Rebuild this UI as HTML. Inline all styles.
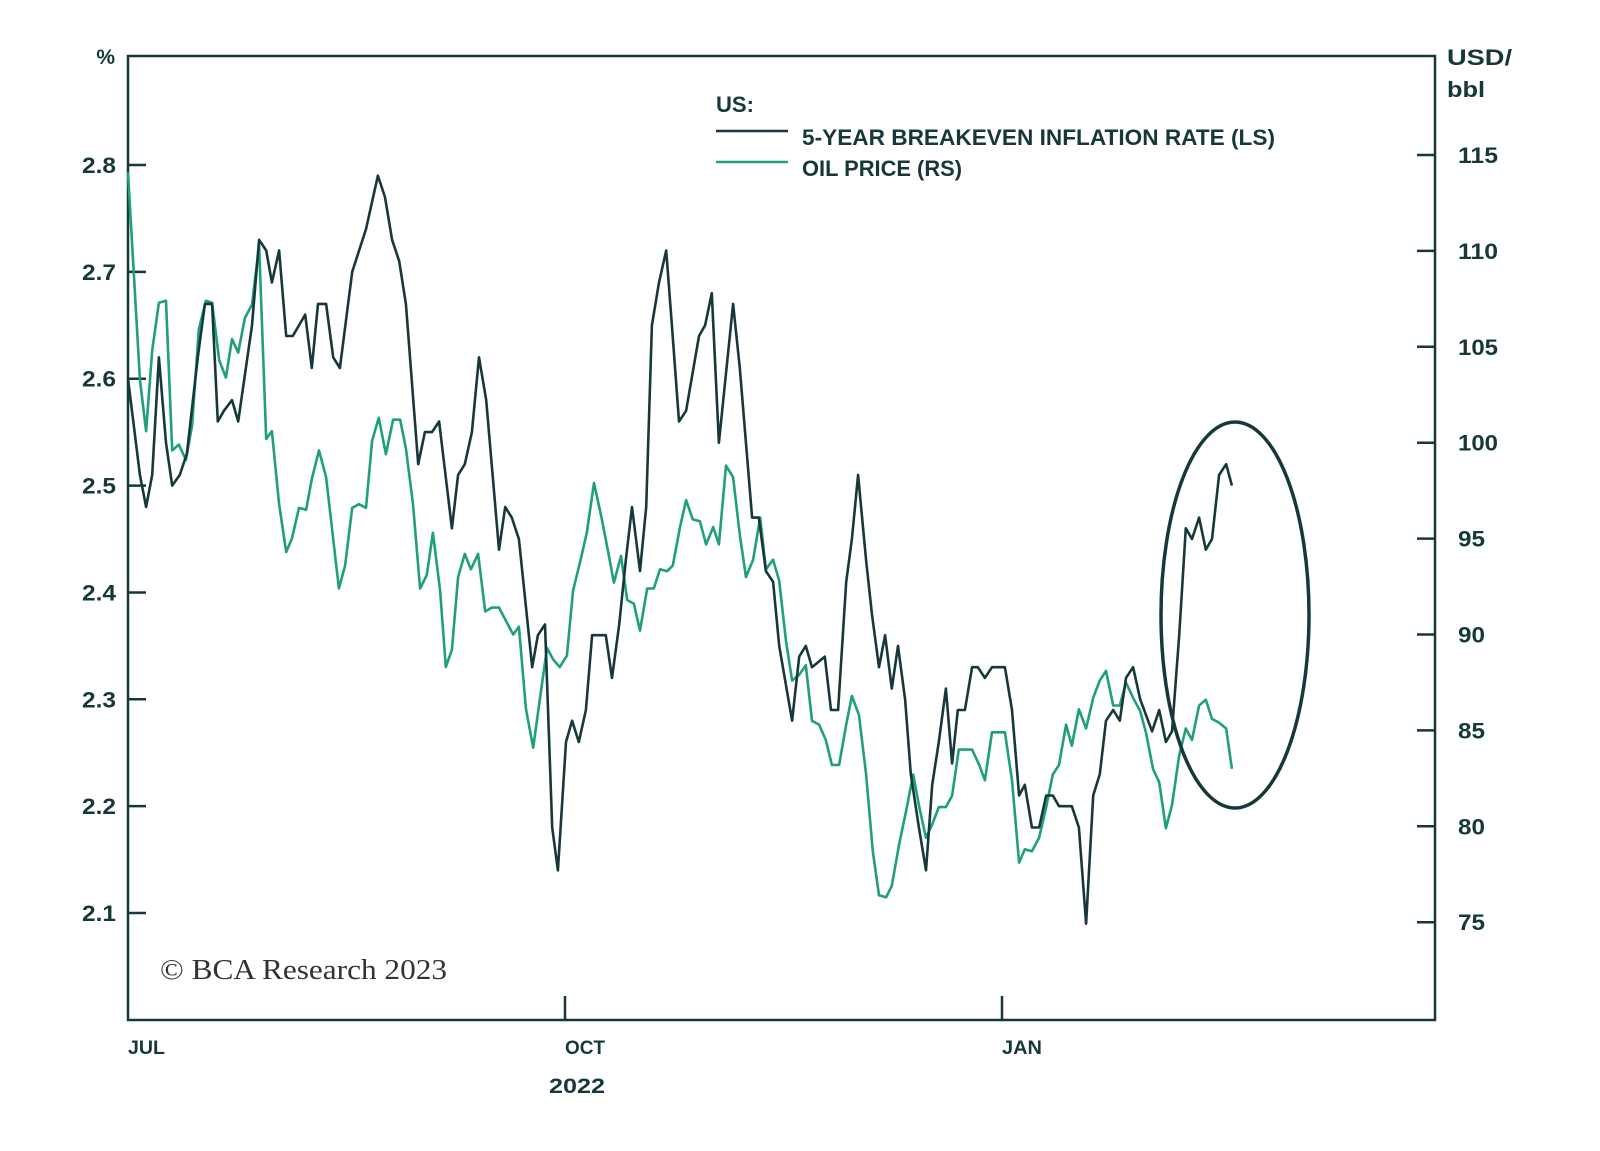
<!DOCTYPE html>
<html><head><meta charset="utf-8"><style>
html,body{margin:0;padding:0;background:#fff;}
svg{display:block;font-family:"Liberation Sans",sans-serif;}
</style></head><body>
<svg id="chart" width="1600" height="1151" viewBox="0 0 1600 1151" xmlns="http://www.w3.org/2000/svg">
<rect x="128" y="56" width="1307" height="964" fill="none" stroke="#17383a" stroke-width="2.5"/>
<g id="axes"></g>
<g id="series"></g>
<ellipse cx="1235" cy="615" rx="74" ry="193" fill="none" stroke="#17383a" stroke-width="3.5"/>
<text x="115" y="64" text-anchor="end" font-size="21" font-weight="bold" fill="#17383a">%</text>
<text x="1447" y="65" font-size="22" font-weight="bold" fill="#17383a" textLength="65" lengthAdjust="spacingAndGlyphs">USD/</text>
<text x="1447" y="97" font-size="22" font-weight="bold" fill="#17383a" textLength="38" lengthAdjust="spacingAndGlyphs">bbl</text>
<g>
<text x="716" y="112" font-size="22" font-weight="bold" fill="#17383a" textLength="38" lengthAdjust="spacingAndGlyphs">US:</text>
<line x1="716" y1="131" x2="788" y2="131" stroke="#17383a" stroke-width="2.5"/>
<text x="802" y="145" font-size="22" font-weight="bold" fill="#17383a" textLength="473" lengthAdjust="spacingAndGlyphs">5-YEAR BREAKEVEN INFLATION RATE (LS)</text>
<line x1="716" y1="162" x2="788" y2="162" stroke="#1fa07a" stroke-width="2.5"/>
<text x="802" y="176" font-size="22" font-weight="bold" fill="#17383a" textLength="160" lengthAdjust="spacingAndGlyphs">OIL PRICE (RS)</text>
</g>
<text x="160" y="979" font-family="'Liberation Serif',serif" font-size="28" fill="#333" textLength="287" lengthAdjust="spacingAndGlyphs">© BCA Research 2023</text>
<text x="549" y="1093" font-size="21" font-weight="bold" fill="#17383a" textLength="56" lengthAdjust="spacingAndGlyphs">2022</text>
</svg>
<script>
const beDays=[0,2.5,3.8,5.1,6.5,8.0,9.3,10.9,12.4,14.7,16.2,17.7,18.9,20.2,21.9,23.2,26.1,27.6,29.1,30.3,31.8,33.3,34.7,37.3,38.7,40.0,41.7,43.2,44.6,47.2,50.1,52.6,54.1,55.6,57.1,58.5,61.1,62.5,64.0,65.5,68.2,69.5,70.9,72.4,73.9,75.4,78.1,79.4,80.8,82.3,85.1,86.3,87.8,89.3,90.5,92.2,93.5,94.9,96.4,97.7,100.6,101.9,103.4,104.8,106.1,107.8,109.1,110.3,111.8,113.3,114.5,116.0,117.5,120.2,121.5,122.9,124.4,127.4,128.8,131.4,132.8,134.3,135.8,137.1,139.8,141.3,142.7,144.0,146.7,148.0,149.5,151.2,152.4,153.7,155.4,156.6,158.1,159.4,160.8,162.1,163.6,164.8,166.5,168.0,169.3,170.7,172.2,173.5,174.7,176.2,177.7,178.9,180.4,181.9,184.6,186.1,187.6,188.8,190.3,191.8,193.3,194.7,196.0,197.5,198.7,200.2,201.7,203.2,204.6,205.9,207.4,208.8,210.1,211.6,213.1,215.6,217.1,218.5,219.8,221.3,222.7,224.0,225.5,226.9,228.2,229.7,231.2,232.4];
const beValues=[2.60,2.51,2.48,2.51,2.62,2.54,2.50,2.51,2.53,2.62,2.67,2.67,2.56,2.57,2.58,2.56,2.65,2.73,2.72,2.69,2.72,2.64,2.64,2.66,2.61,2.67,2.67,2.62,2.61,2.70,2.74,2.79,2.77,2.73,2.71,2.67,2.52,2.55,2.55,2.56,2.46,2.51,2.52,2.55,2.62,2.58,2.44,2.48,2.47,2.45,2.33,2.36,2.37,2.18,2.14,2.26,2.28,2.26,2.29,2.36,2.36,2.32,2.37,2.43,2.48,2.42,2.48,2.65,2.69,2.72,2.65,2.56,2.57,2.64,2.65,2.68,2.54,2.67,2.61,2.47,2.47,2.42,2.41,2.35,2.28,2.34,2.35,2.33,2.34,2.29,2.29,2.41,2.45,2.51,2.43,2.38,2.33,2.36,2.31,2.35,2.30,2.23,2.18,2.14,2.22,2.26,2.31,2.24,2.29,2.29,2.33,2.33,2.32,2.33,2.33,2.29,2.21,2.22,2.18,2.18,2.21,2.21,2.20,2.20,2.20,2.18,2.09,2.21,2.23,2.28,2.29,2.28,2.32,2.33,2.30,2.27,2.29,2.26,2.27,2.36,2.46,2.45,2.47,2.44,2.45,2.51,2.52,2.50];
const oilDays=[0,2.5,3.8,5.1,6.5,8.0,9.3,10.7,12.2,13.5,14.9,16.4,17.7,19.2,20.6,21.9,23.2,24.6,26.1,27.6,29.1,30.3,31.8,33.3,34.5,36.0,37.5,38.7,40.2,41.7,44.4,45.7,47.2,48.6,50.1,51.4,52.8,54.3,55.8,57.3,58.5,60.0,61.5,62.9,64.2,65.7,66.9,68.2,69.5,70.9,72.2,73.7,75.2,76.6,78.1,79.6,81.1,82.3,83.8,85.3,86.7,88.2,89.5,90.9,92.4,93.7,95.2,96.6,98.1,99.6,101.1,102.3,103.8,105.1,106.5,107.8,109.3,110.7,112.0,113.5,114.7,116.2,117.5,118.9,120.4,121.7,123.2,124.4,125.9,127.4,128.8,130.1,131.6,133.1,134.3,135.8,137.1,138.5,139.8,141.3,142.7,144.0,145.5,146.9,148.2,149.7,151.2,152.4,153.9,155.4,156.8,158.1,159.6,160.8,162.3,163.8,165.3,166.5,168.0,169.3,170.7,172.2,173.5,174.9,177.7,179.2,180.4,181.9,184.6,186.1,187.6,188.8,190.3,191.8,193.3,194.7,196.0,197.5,198.7,200.2,201.7,203.2,204.6,205.9,207.4,208.8,210.1,211.6,213.1,214.3,215.8,217.1,218.5,219.8,221.3,222.7,224.0,225.5,226.9,228.2,229.7,231.2,232.4];
const oilValues=[114.1,103.3,100.6,104.8,107.3,107.4,99.6,99.9,99.1,100.9,105.9,107.4,107.3,104.3,103.4,105.4,104.7,106.5,107.2,110.3,100.2,100.6,96.8,94.3,95.0,96.6,96.5,98.1,99.6,98.2,92.4,93.6,96.6,96.8,96.6,100.1,101.3,99.4,101.2,101.2,99.7,96.8,92.4,93.1,95.3,92.3,88.3,89.2,93.0,94.2,93.4,94.2,91.2,91.4,91.4,90.7,90.0,90.4,86.1,84.1,86.6,89.3,88.7,88.3,88.9,92.3,93.8,95.3,97.9,96.2,94.3,92.7,94.1,91.8,91.6,90.2,92.4,92.4,93.4,93.3,93.6,95.6,97.0,96.0,95.9,94.7,95.6,94.7,98.8,98.2,95.2,93.0,93.9,96.1,93.4,93.9,92.8,89.7,87.6,87.9,88.4,85.5,85.3,84.5,83.2,83.2,85.3,86.8,85.8,82.7,78.7,76.4,76.3,76.9,79.0,80.8,82.7,81.1,79.4,80.1,81.0,81.0,81.6,84.0,84.0,83.2,82.4,84.9,84.9,82.4,78.1,78.8,78.7,79.4,81.0,82.7,83.2,85.3,84.2,86.1,85.1,86.7,87.6,88.1,86.3,86.3,87.5,86.7,86.0,84.9,83.0,82.3,79.9,81.1,83.7,85.1,84.5,86.3,86.6,85.6,85.4,85.1,83.0];
const leftTicks=[2.1,2.2,2.3,2.4,2.5,2.6,2.7,2.8];
const rightTicks=[75,80,85,90,95,100,105,110,115];
const monthLabels=["JUL","OCT","JAN"];
const monthDays=[0,92,184];

const NS="http://www.w3.org/2000/svg";
const X0=128,PX_PER_DAY=4.75;
function xScale(d){return X0+d*PX_PER_DAY;}
function yLeft(v){return 165+(2.8-v)*1068.6;}
function yRight(v){return 155+(115-v)*19.18;}
const ax=document.getElementById('axes');
function mk(tag,attrs,parent){const e=document.createElementNS(NS,tag);for(const k in attrs)e.setAttribute(k,attrs[k]);parent.appendChild(e);return e;}
leftTicks.forEach(t=>{
  const y=yLeft(t);
  const l=mk('line',{x1:128,x2:146,y1:y,y2:y,stroke:'#17383a','stroke-width':2.5},ax);
  
  
  const tx=mk('text',{x:116,y:y+8,'text-anchor':'end','font-size':22,'font-weight':'bold',fill:'#17383a',textLength:34,lengthAdjust:'spacingAndGlyphs'},ax);
  tx.textContent=t.toFixed(1);
  
  
});
rightTicks.forEach(t=>{
  const y=yRight(t);
  const l=mk('line',{x1:1417,x2:1435,y1:y,y2:y,stroke:'#17383a','stroke-width':2.5},ax);
  
  
  const tx=mk('text',{x:1458,y:y+8,'font-size':22,'font-weight':'bold',fill:'#17383a',textLength:(String(t).length===3?40:27),lengthAdjust:'spacingAndGlyphs'},ax);
  tx.textContent=String(t);
  
  
});
monthLabels.forEach((m,i)=>{
  const x=xScale(monthDays[i]);
  if(i>0){
    const l=mk('line',{x1:x,x2:x,y1:996,y2:1020,stroke:'#17383a','stroke-width':2.5},ax);
    
    
  }
  const tx=mk('text',{x:x,y:1054,'font-size':19,'font-weight':'bold',fill:'#17383a',textLength:(m==='JUL'?37:40),lengthAdjust:'spacingAndGlyphs'},ax);
  tx.textContent=m;
  
  
});
const sg=document.getElementById('series');
function path(days,vals,ys){return days.map((d,i)=>(i?'L':'M')+xScale(d).toFixed(1)+','+ys(vals[i]).toFixed(1)).join('');}
const oil=mk('path',{d:path(oilDays,oilValues,yRight),fill:'none',stroke:'#1fa07a','stroke-width':2.6,'stroke-linejoin':'round'},sg);


const be=mk('path',{d:path(beDays,beValues,yLeft),fill:'none',stroke:'#17383a','stroke-width':2.6,'stroke-linejoin':'round'},sg);


</script>
</body></html>
